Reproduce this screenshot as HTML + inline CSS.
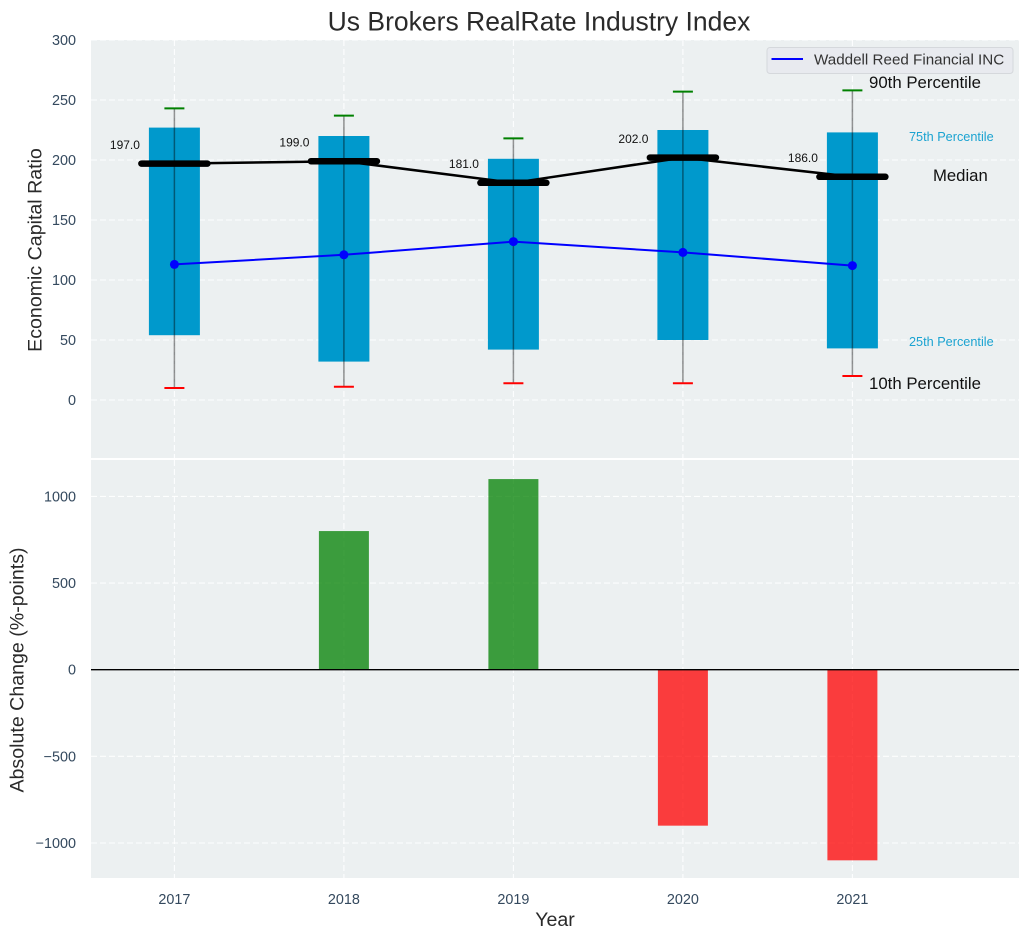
<!DOCTYPE html>
<html>
<head>
<meta charset="utf-8">
<title>Us Brokers RealRate Industry Index</title>
<style>
html,body{margin:0;padding:0;background:#fff;}
svg{display:block;font-family:"Liberation Sans",Arial,sans-serif;}
</style>
</head>
<body>
<svg id="chart" xmlns="http://www.w3.org/2000/svg" width="1029" height="940" viewBox="0 0 1029 940">
  <rect x="91" y="40" width="928" height="418" fill="#ecf0f1"/>
  <rect x="91" y="460" width="928" height="418" fill="#ecf0f1"/>
  <g id="grid"></g>
  <g id="bars"></g>
  <g id="boxes"></g>
  <g id="lines"></g>
  <g id="ticks" font-size="14.4" fill="#34495e"></g>
  <text x="539" y="30.5" font-size="26.5" text-anchor="middle" fill="#2a2a2a">Us Brokers RealRate Industry Index</text>
  <text transform="translate(41.5,250) rotate(-90)" font-size="19.6" text-anchor="middle" fill="#2a2a2a">Economic Capital Ratio</text>
  <text transform="translate(23.5,670) rotate(-90)" font-size="19.6" text-anchor="middle" fill="#2a2a2a">Absolute Change (%-points)</text>
  <text x="555" y="926" font-size="19.6" text-anchor="middle" fill="#2a2a2a">Year</text>
  <g>
    <rect x="767" y="47.5" width="246" height="26" rx="3" fill="#e8eaef" stroke="#d5d8dc" stroke-width="1"/>
    <line x1="771.5" x2="803" y1="59" y2="59" stroke="#0000ff" stroke-width="2"/>
    <text x="814" y="64.5" font-size="15.2" fill="#333333">Waddell Reed Financial INC</text>
  </g>
  <text x="869" y="88" font-size="16.8" fill="#111111">90th Percentile</text>
  <text x="909" y="141" font-size="12.7" fill="#1ba3d1">75th Percentile</text>
  <text x="933" y="181" font-size="16.7" fill="#111111">Median</text>
  <text x="909" y="346" font-size="12.7" fill="#1ba3d1">25th Percentile</text>
  <text x="869" y="389" font-size="16.8" fill="#111111">10th Percentile</text>
</svg>
<script>
const years = [2017, 2018, 2019, 2020, 2021];
const p90 = [243, 237, 218, 257, 258];
const p75 = [227, 220, 201, 225, 223];
const medians = [197, 199, 181, 202, 186];
const p25 = [54, 32, 42, 50, 43];
const p10 = [10, 11, 14, 14, 20];
const company = [113, 121, 132, 123, 112];
const changes = [0, 800, 1100, -900, -1100];
const topTicks = [0, 50, 100, 150, 200, 250, 300];
const bottomTicks = [-1000, -500, 0, 500, 1000];

const NS = 'http://www.w3.org/2000/svg';
const xScale = function (year) { return 174.4 + (year - 2017) * 169.5; };
const yTop = function (v) { return 400 - v * 1.2; };
const yBottom = function (v) { return 669.7 - v * 0.1733; };

function make(parent, tag, props) {
  const el = document.createElementNS(NS, tag);
  for (const k in props) el.setAttribute(k, props[k]);
  document.getElementById(parent).appendChild(el);
  return el;
}
function gridStyle() {
  return { stroke: '#ffffff', 'stroke-width': 1.1, 'stroke-dasharray': '6 3', 'stroke-opacity': 0.9 };
}

years.forEach(function (yr) {
  const x = xScale(yr);
  const g = make('grid', 'line', Object.assign({ x1: x, x2: x, y1: 40, y2: 458 }, gridStyle()));
  
  
  const h = make('grid', 'line', Object.assign({ x1: x, x2: x, y1: 460, y2: 878 }, gridStyle()));
  
  
  const t = make('ticks', 'text', { x: x, y: 904, 'text-anchor': 'middle' });
  t.textContent = String(yr);
  
  
});

topTicks.forEach(function (v) {
  const y = yTop(v);
  const g = make('grid', 'line', Object.assign({ x1: 91, x2: 1019, y1: y, y2: y }, gridStyle()));
  
  
  const t = make('ticks', 'text', { x: 76, y: y + 5, 'text-anchor': 'end' });
  t.textContent = String(v);
  
  
});

bottomTicks.forEach(function (v) {
  const y = yBottom(v);
  if (v !== 0) {
    const g = make('grid', 'line', Object.assign({ x1: 91, x2: 1019, y1: y, y2: y }, gridStyle()));
    
    
  }
  const t = make('ticks', 'text', { x: 76, y: y + 5, 'text-anchor': 'end' });
  t.textContent = String(v).replace('-', '\u2212');
  
  
});

changes.forEach(function (v, i) {
  if (v === 0) return;
  const x = xScale(years[i]);
  const y0 = yBottom(0), y1 = yBottom(v);
  const b = make('bars', 'rect', {
    x: x - 25, width: 50, y: Math.min(y0, y1), height: Math.abs(y1 - y0),
    fill: v > 0 ? '#008000' : '#ff0000', 'fill-opacity': 0.75
  });
  
  
});
const zero = make('bars', 'line', { x1: 91, x2: 1019, y1: yBottom(0), y2: yBottom(0), stroke: '#000000', 'stroke-width': 1.3 });



years.forEach(function (yr, i) {
  const x = xScale(yr);
  const box = make('boxes', 'rect', {
    x: x - 25.5, width: 51, y: yTop(p75[i]), height: yTop(p25[i]) - yTop(p75[i]), fill: '#0099cc'
  });
  
  
  const w = make('boxes', 'line', { x1: x, x2: x, y1: yTop(p90[i]), y2: yTop(p10[i]), stroke: '#000000', 'stroke-opacity': 0.42, 'stroke-width': 1.5 });
  
  
  const hi = make('boxes', 'line', { x1: x - 10, x2: x + 10, y1: yTop(p90[i]), y2: yTop(p90[i]), stroke: '#008000', 'stroke-width': 2 });
  
  
  const lo = make('boxes', 'line', { x1: x - 10, x2: x + 10, y1: yTop(p10[i]), y2: yTop(p10[i]), stroke: '#ff0000', 'stroke-width': 2 });
  
  
});

const medianLine = make('lines', 'polyline', {
  points: years.map(function (yr, i) { return xScale(yr) + ',' + yTop(medians[i]); }).join(' '),
  fill: 'none', stroke: '#000000', 'stroke-width': 2.5
});



years.forEach(function (yr, i) {
  const x = xScale(yr), y = yTop(medians[i]);
  const m = make('lines', 'line', { x1: x - 33, x2: x + 33, y1: y, y2: y, stroke: '#000000', 'stroke-width': 6.5, 'stroke-linecap': 'round' });
  
  
  const t = make('lines', 'text', { x: x - 64.5, y: y - 14.6, 'font-size': 12, fill: '#111111' });
  t.textContent = medians[i].toFixed(1);
  
  
});

const companyLine = make('lines', 'polyline', {
  points: years.map(function (yr, i) { return xScale(yr) + ',' + yTop(company[i]); }).join(' '),
  fill: 'none', stroke: '#0000ff', 'stroke-width': 2
});



years.forEach(function (yr, i) {
  const c = make('lines', 'circle', { cx: xScale(yr), cy: yTop(company[i]), r: 4.5, fill: '#0000ff' });
  
  
});
</script>
</body>
</html>
